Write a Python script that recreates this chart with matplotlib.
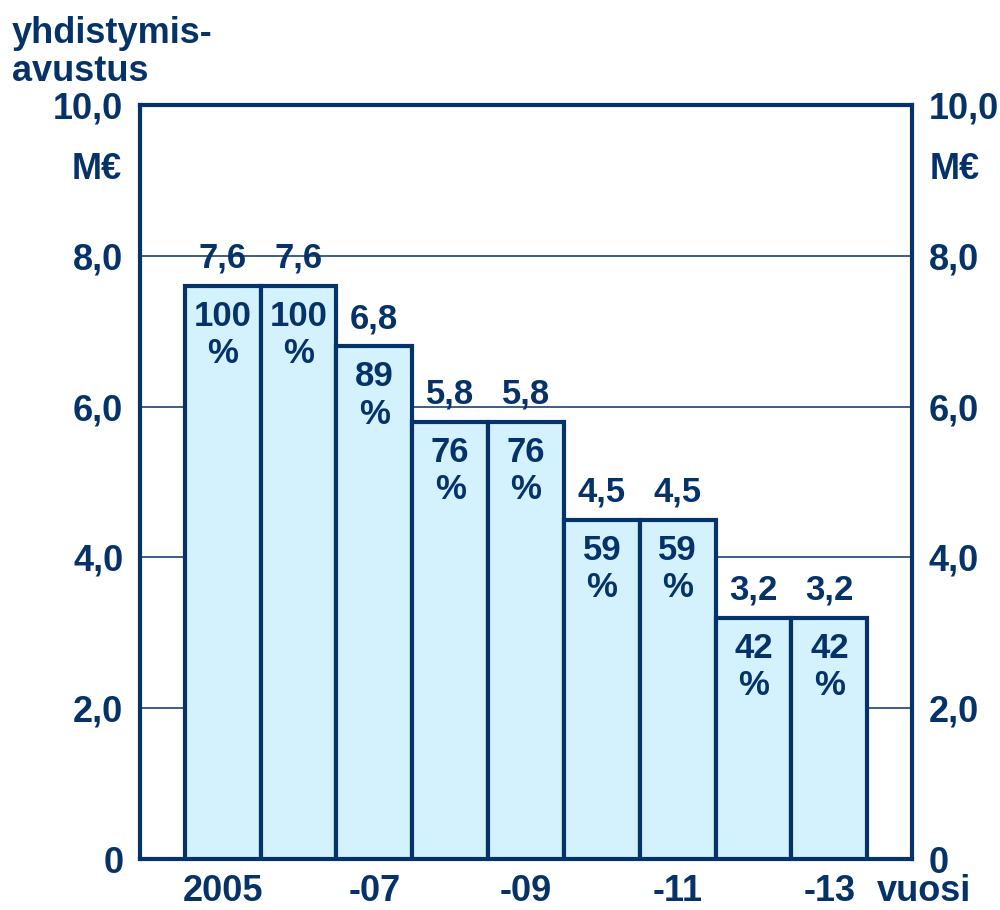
import numpy as np
import matplotlib.pyplot as plt

plt.rcParams['font.family'] = ['Liberation Sans', 'DejaVu Sans']
plt.rcParams['font.weight'] = 'bold'

# --- data ---
vuodet = ['2005', '', '-07', '', '-09', '', '-11', '', '-13']
arvot = [7.6, 7.6, 6.8, 5.8, 5.8, 4.5, 4.5, 3.2, 3.2]
prosentit = [100, 100, 89, 76, 76, 59, 59, 42, 42]
y_ticks = [0, 2, 4, 6, 8, 10]
y_labels = ['0', '2,0', '4,0', '6,0', '8,0', '10,0']

navy = '#06326A'
fill = '#D4F2FD'
fs = 26

fig = plt.figure(figsize=(10, 9.1), dpi=100)
ax = fig.add_axes([0.14, 0.056, 0.772, 0.8286])

x = np.arange(len(arvot))
ax.bar(x, arvot, width=1.0, color=fill, edgecolor=navy, linewidth=3, zorder=3)

for yy in [2, 4, 6, 8]:
    ax.axhline(yy, color=navy, lw=1.1, zorder=1)

for xi, v, p in zip(x, arvot, prosentit):
    ax.annotate(f'{v:.1f}'.replace('.', ','), (xi, v), xytext=(0, 8),
                textcoords='offset points', ha='center', va='bottom',
                fontsize=25, color=navy, fontweight='bold', zorder=4)
    ax.annotate(f'{p}\n%', (xi, v), xytext=(0, -10),
                textcoords='offset points', ha='center', va='top',
                fontsize=25, color=navy, fontweight='bold',
                linespacing=1.17, zorder=4)

ax.set_xlim(-1.09, 9.09)
ax.set_ylim(0, 10)
ax.set_xticks(x)
ax.set_xticklabels(vuodet)
ax.set_yticks(y_ticks)
ax.set_yticklabels(y_labels)
ax.tick_params(axis='both', length=0, labelsize=fs, labelcolor=navy)
ax.tick_params(axis='y', pad=12, labelright=True)
ax.tick_params(axis='x', pad=11)
for lab in ax.get_xticklabels() + ax.get_yticklabels():
    lab.set_fontweight('bold')
for t in ax.yaxis.get_major_ticks():
    t.label2.set_fontweight('bold')

for s in ax.spines.values():
    s.set_color(navy)
    s.set_linewidth(3)

ax.text(-0.023, 9.14, 'M€', transform=ax.get_yaxis_transform(), ha='right',
        va='center', fontsize=fs, color=navy, fontweight='bold')
ax.text(1.023, 9.14, 'M€', transform=ax.get_yaxis_transform(), ha='left',
        va='center', fontsize=fs, color=navy, fontweight='bold')
ax.text(1.016, -0.043, 'vuosi', transform=ax.transAxes, ha='center',
        va='center', fontsize=fs, color=navy, fontweight='bold')

fig.text(0.012, 0.982, 'yhdistymis-\navustus', ha='left', va='top',
         fontsize=fs, color=navy, fontweight='bold', linespacing=1.1)

fig.savefig('out.png', dpi=100)
